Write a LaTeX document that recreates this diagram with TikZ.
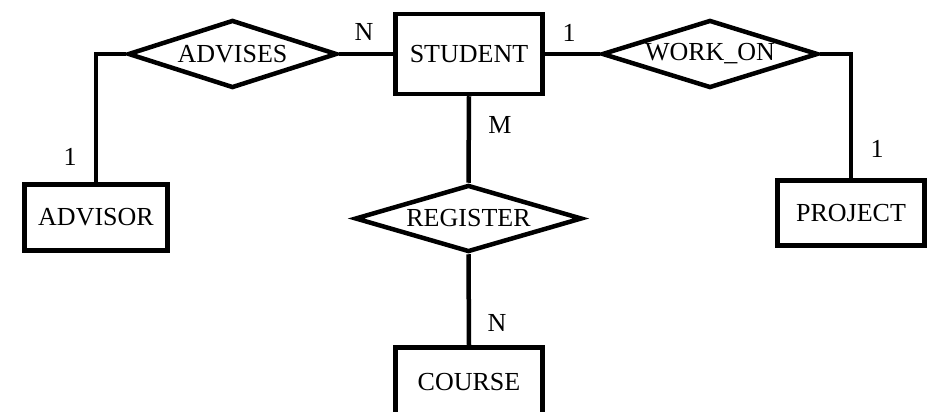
\documentclass[tikz,border=0pt]{standalone}
\usepackage{fontspec}
\setmainfont{Liberation Serif}
\usetikzlibrary{shapes.geometric}
\begin{document}
\begin{tikzpicture}[x=1pt,y=-1pt,
  every node/.style={font=\fontsize{26}{30}\selectfont},
  entity/.style={draw,line width=4.5pt,minimum width=147pt,minimum height=66pt,inner sep=0pt},
  relation/.style={draw,diamond,shape aspect=3,line width=4.5pt,inner sep=0pt,line join=miter},
  conn/.style={line width=4.5pt,line join=miter},
  card/.style={inner sep=0pt}]
\clip (0,0) rectangle (930,412);
\fill[white] (0,0) rectangle (930,412);
\node[entity,minimum height=80pt] (student) at (469,54) {STUDENT};
\node[entity,minimum width=143pt] (advisor) at (96,217.5) {ADVISOR};
\node[entity,minimum height=65pt] (project) at (851,213) {PROJECT};
\node[entity,minimum height=100pt,text depth=0pt] (course) at (469,397.5) {};
\node[card] (coursetext) at (469,382) {COURSE};
\node[relation,minimum width=209pt,minimum height=68pt] (advises) at (232.5,54) {ADVISES};
\node[relation,minimum width=216pt,minimum height=68pt] (workon) at (710,54) {WORK\_ON};
\node[relation,minimum width=227pt,minimum height=67pt] (register) at (468.5,218.5) {REGISTER};
\draw[conn] (advises.west) -| (advisor.north);
\draw[conn] (advises.east) -- (student.west);
\draw[conn] (student.east) -- (workon.west);
\draw[conn] (workon.east) -| (project.north);
\draw[conn] (student.south) -- (register.north);
\draw[conn] (register.south) -- (course.north);
\node[card] (c1) at (364,32) {N};
\node[card] (c2) at (569,33) {1};
\node[card] (c3) at (70,157) {1};
\node[card] (c4) at (500,125) {M};
\node[card] (c5) at (497,323) {N};
\node[card] (c6) at (877,149) {1};
\end{tikzpicture}
\end{document}
